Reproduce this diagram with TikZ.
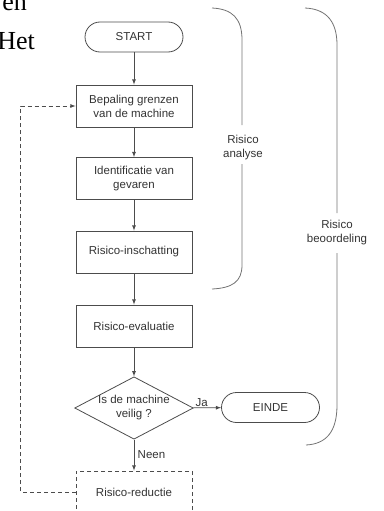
\documentclass[tikz,border=0pt]{standalone}
\usepackage{fontspec}
\setmainfont{Liberation Sans}
\newfontfamily\bodyfont{Liberation Serif}
\usetikzlibrary{shapes.geometric,positioning}

\begin{document}
\begin{tikzpicture}[x=1pt,y=-1pt,>=latex,
    every node/.append style={font=\fontsize{11.5}{14}\selectfont,text=black!80},
    stap/.style={draw=black!70,line width=.8pt,minimum width=116pt,minimum height=42pt,inner sep=0pt,align=center},
    eind/.style={draw=black!70,line width=.8pt,rounded corners=15pt,minimum width=98pt,minimum height=30pt,inner sep=0pt},
    keuze/.style={draw=black!70,line width=.8pt,diamond,aspect=1.9,minimum width=115pt,minimum height=61pt,inner sep=0pt,align=center},
    pijl/.style={->,draw=black!70,line width=.8pt},
    haak/.style={draw=black!55,line width=.8pt}]
    \useasboundingbox (0,0) rectangle (383,511);
    % stukje lopende tekst links boven
    \node [anchor=base east,inner sep=0pt,font=\bodyfont\fontsize{26}{30}\selectfont,text=black] (T1) at (27,11) {en};
    \node [anchor=base east,inner sep=0pt,font=\bodyfont\fontsize{26}{30}\selectfont,text=black] (T2) at (35,50) {Het};
    % stappen
    \node [eind] (S) at (134,37) {START};
    \node [stap] (A) at (134,106) {Bepaling grenzen\\van de machine};
    \node [stap] (B) at (134,178.5) {Identificatie van\\gevaren};
    \node [stap] (C) at (134,252) {Risico-inschatting};
    \node [stap] (D) at (134,326) {Risico-evaluatie};
    \node [keuze] (Q) at (134,408) {Is de machine\\veilig ?};
    \node [eind] (E) at (270.5,407.5) {EINDE};
    \node [stap,dashed,dash pattern=on 4pt off 3pt] (R) at (134,492) {Risico-reductie};
    \draw [pijl] (S) to (A);
    \draw [pijl] (A) to (B);
    \draw [pijl] (B) to (C);
    \draw [pijl] (C) to (D);
    \draw [pijl] (D) to (Q);
    \draw [pijl] (Q) to node [above,pos=.3,inner sep=1pt] {Ja} (E);
    \draw [pijl] (Q) to node [right,pos=.47] {Neen} (R);
    \draw [pijl,dash pattern=on 4pt off 3pt] (R.west) -- ++(-55,0) |- (A.west);
    % haken
    \node [align=center] (RA) at (243,148) {Risico\\analyse};
    \node [align=center] (RB) at (337,233) {Risico\\beoordeling};
    \draw [haak] (212,8) .. controls (232,9) and (242,18) .. (242,40) -- (242,125);
    \draw [haak] (242,164) -- (242,265) .. controls (242,282) and (232,288) .. (212,289);
    \draw [haak] (305,8) .. controls (327,9) and (337,22) .. (337,45) -- (337,213);
    \draw [haak] (337,253) -- (337,405) .. controls (337,432) and (326,444) .. (306,445);
  \end{tikzpicture}
\end{document}
